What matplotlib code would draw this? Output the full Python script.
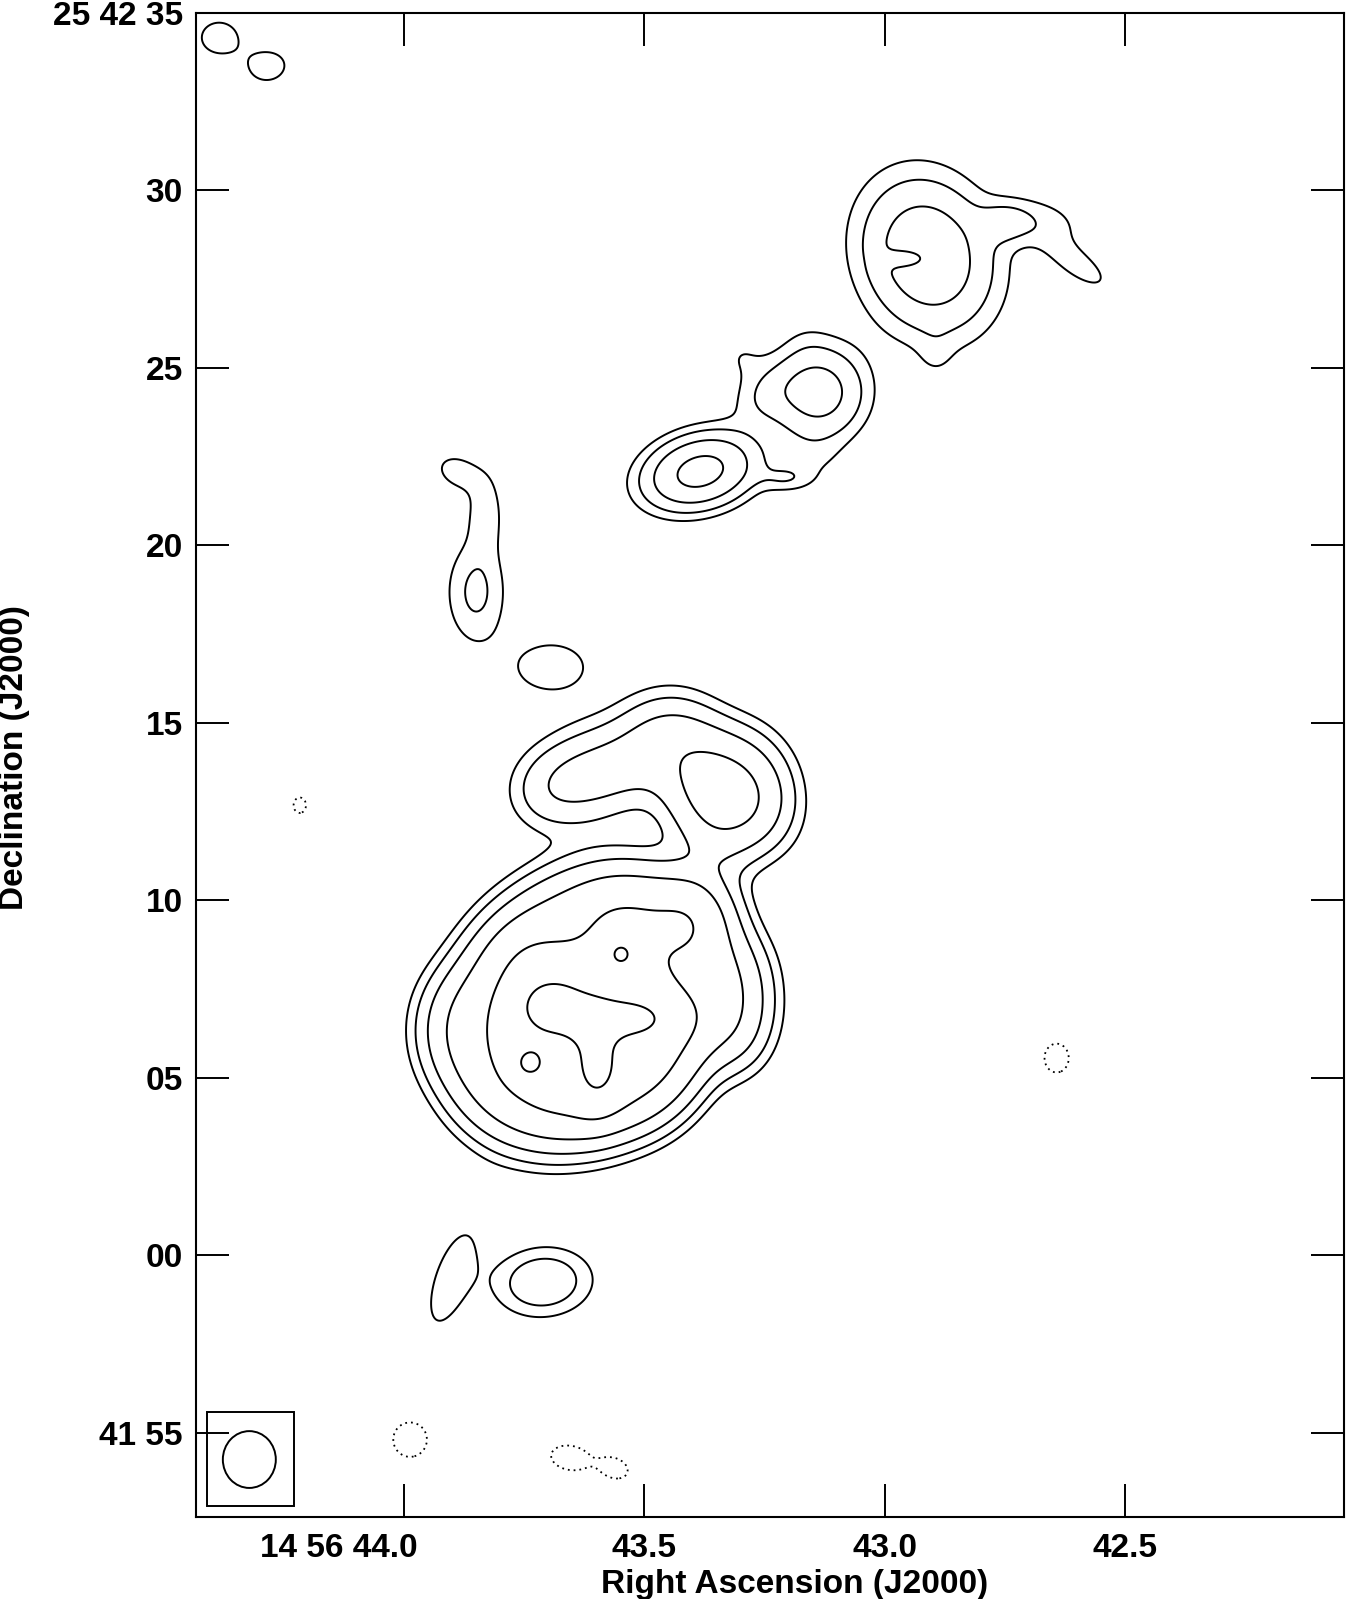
import numpy as np
import matplotlib
matplotlib.use("Agg")
import matplotlib.pyplot as plt
import matplotlib.transforms as mtransforms
from matplotlib.patches import Ellipse, Rectangle

plt.rcParams['font.family'] = ['Liberation Sans', 'DejaVu Sans']
plt.rcParams['font.weight'] = 'bold'

# RA in seconds of 14h56m, Dec in arcsec after +25d41m00s
ARCSEC_PER_S = 15 * np.cos(np.radians(25.70))

# ---- extended emission: flat regions, convolved with the beam
reg_ra = [43.5958, 43.3313, 43.358, 43.446,                     # northern part of core
          43.623, 43.321, 43.608, 43.404, 43.546, 43.733, 43.864]  # southern part of core
reg_dec = [73.58, 73.10, 71.64, 74.79,
           67.05, 67.19, 66.06, 69.50, 69.30, 68.32, 66.34]
reg_a = [2.25, 1.55, 0.62, 1.13,
         4.36, 0.70, 2.90, 0.85, 0.95, 0.90, 0.99]
reg_b = [0.85, 1.55, 0.62, 0.62,
         3.32, 1.69, 2.40, 0.85, 0.70, 0.51, 1.55]
reg_theta = [18, 0, 0, 0,
             42, 0, 0, 0, 0, 0, 0]
reg_level = [7, 7, 7, 7,
             12, 12, 22, 22, 22, 22, 12]

# ---- compact components (gaussians)
comp_ra = [44.385, 44.283,                                        # NE knots
           42.910, 42.950, 42.748, 42.665, 42.596, 42.894,        # NW lobe
           43.3835, 43.1375, 43.206, 43.300, 43.248, 43.1646, 43.154,  # middle lobe
           43.8875, 43.831, 43.850, 43.694,                       # east jet + knot
           43.692, 43.533, 43.598, 43.6125, 43.739, 43.548, 43.3375,  # core peaks
           43.900, 43.7104,                                       # southern knots
           44.217, 42.642, 43.9875, 43.654, 43.5625]              # negatives
comp_dec = [94.30, 93.48,
            88.16, 88.08, 89.09, 89.09, 87.88, 85.35,
            82.08, 84.31, 81.89, 85.32, 84.22, 85.77, 82.39,
            82.06, 80.93, 78.68, 76.57,
            67.02, 66.68, 65.36, 66.63, 65.41, 68.49, 73.02,
            59.36, 59.25,
            72.68, 65.56, 54.82, 54.30, 54.01]
comp_sa = [0.59, 0.56,
           1.15, 0.39, 0.51, 0.80, 0.80, 0.34,
           0.98, 0.85, 0.50, 0.48, 0.70, 0.45, 0.70,
           0.53, 0.35, 0.58, 0.99,
           0.72, 0.85, 0.42, 0.50, 0.32, 0.28, 1.20,
           1.45, 0.88,
           0.40, 0.47, 0.58, 0.48, 0.34]
comp_sb = [0.51, 0.45,
           1.41, 0.17, 0.39, 0.50, 0.32, 0.45,
           0.62, 0.85, 0.25, 0.48, 0.51, 0.45, 0.55,
           0.37, 0.75, 1.01, 0.68,
           0.62, 0.42, 0.75, 0.50, 0.32, 0.28, 0.84,
           0.52, 0.62,
           0.50, 0.56, 0.60, 0.30, 0.24]
comp_theta = [0, 10,
              20, 0, 0, -15, -35, 0,
              15, 0, 0, 0, 30, 0, 0,
              -25, 0, 0, 0,
              0, 0, 0, 0, 0, 0, -35,
              71, 5,
              0, 0, 0, -10, -20]
comp_amp = [1.4, 1.4,
            6.6, -3.5, 1.9, 1.35, 1.5, 0.6,
            10.0, 5.4, 1.5, 0.85, 1.5, 0.3, 0.8,
            1.5, 1.6, 2.3, 1.5,
            18, 16, 16, 8, 15, 16, 4.5,
            1.45, 3.5,
            -1.1, -1.3, -1.4, -1.9, -1.9]

contour_levels = [1, 2, 4, 8, 16, 32]
negative_levels = [-1]

# restoring beam (FWHM, arcsec) and its box
beam_fwhm_x, beam_fwhm_y = 1.49, 1.60
beam_ra, beam_dec = 44.322, 54.254
box_ra = (44.229, 44.410)
box_dec = (52.945, 55.59)

ra_ticks = [44.0, 43.5, 43.0, 42.5]
ra_labels = ["14 56 44.0", "43.5", "43.0", "42.5"]
dec_ticks = [55, 60, 65, 70, 75, 80, 85, 90, 95]
dec_labels = ["41 55", "00", "05", "10", "15", "20", "25", "30", "25 42 35"]


def rotated(ra, dec, ra0, dec0, theta):
    u = (ra0 - ra) * ARCSEC_PER_S   # west offset
    v = dec - dec0
    t = np.radians(theta)
    return u * np.cos(t) + v * np.sin(t), -u * np.sin(t) + v * np.cos(t)


ra = np.linspace(41.75, 44.75, 1000)
dec = np.linspace(49.5, 98.0, 1250)
RA, DEC = np.meshgrid(ra, dec)

model = np.zeros_like(RA)
for r0, d0, a, b, th, lev in zip(reg_ra, reg_dec, reg_a, reg_b, reg_theta, reg_level):
    p, q = rotated(RA, DEC, r0, d0, th)
    model = np.maximum(model, np.where((p / a) ** 2 + (q / b) ** 2 <= 1, lev, 0.0))

sx = beam_fwhm_x / 2.3548
sy = beam_fwhm_y / 2.3548
ny, nx = model.shape
du = (ra[1] - ra[0]) * ARCSEC_PER_S
dv = dec[1] - dec[0]
KU, KV = np.meshgrid((np.arange(nx) - nx // 2) * du, (np.arange(ny) - ny // 2) * dv)
kern = np.exp(-0.5 * ((KU / sx) ** 2 + (KV / sy) ** 2))
kern /= kern.sum()
img = np.fft.irfft2(np.fft.rfft2(model) * np.fft.rfft2(np.fft.ifftshift(kern)), s=model.shape)

for r0, d0, a, b, th, amp in zip(comp_ra, comp_dec, comp_sa, comp_sb, comp_theta, comp_amp):
    p, q = rotated(RA, DEC, r0, d0, th)
    img += amp * np.exp(-0.5 * ((p / a) ** 2 + (q / b) ** 2))

fig = plt.figure(figsize=(13.47, 15.99), dpi=100)
ax = fig.add_axes([0.1455, 0.05147, 0.85226, 0.94059])

ax.contour(RA, DEC, img, levels=contour_levels, colors='k', linewidths=1.4,
           linestyles='solid')
ax.contour(RA, DEC, img, levels=negative_levels, colors='k', linewidths=1.3,
           linestyles=[(0, (1.0, 2.2))])

ax.add_patch(Rectangle((box_ra[0], box_dec[0]), box_ra[1] - box_ra[0],
                       box_dec[1] - box_dec[0], fill=False, lw=1.4, ec='k'))
ax.add_patch(Ellipse((beam_ra, beam_dec), beam_fwhm_x / ARCSEC_PER_S, beam_fwhm_y,
                     fill=False, lw=1.4, ec='k'))

ax.set_xlim(44.433, 42.044)
ax.set_ylim(52.644, 95.0)

ax.set_xticks(ra_ticks)
ax.set_xticklabels(ra_labels)
ax.set_yticks(dec_ticks)
ax.set_yticklabels(dec_labels)
ax.tick_params(axis='both', direction='in', length=24, width=1.4, top=True,
               right=True, labelsize=24)
ax.tick_params(axis='x', pad=12)
ax.tick_params(axis='y', pad=9.5)
for s in ax.spines.values():
    s.set_linewidth(1.5)

first = ax.get_xticklabels()[0]
first.set_horizontalalignment('right')
first.set_transform(first.get_transform() +
                    mtransforms.ScaledTranslation(0.14, 0, fig.dpi_scale_trans))

ax.set_xlabel("Right Ascension (J2000)", fontsize=24, fontweight='bold')
ax.set_ylabel("Declination (J2000)", fontsize=24, fontweight='bold')
ax.xaxis.set_label_coords(0.521, -0.035)
ax.yaxis.set_label_coords(-0.145, 0.5045)

fig.savefig("out.png", dpi=100)
